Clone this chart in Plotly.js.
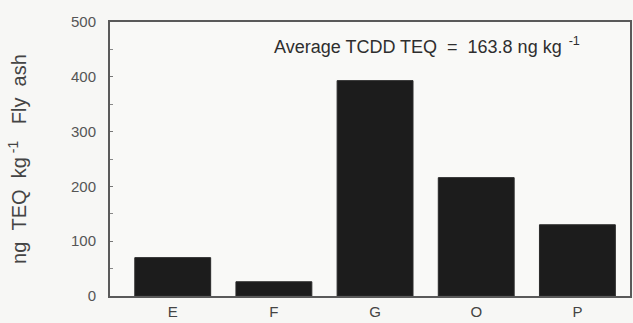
<!DOCTYPE html>
<html>
<head>
<meta charset="utf-8">
<script src="https://cdn.plot.ly/plotly-3.0.1.min.js"></script>
<style>html,body{margin:0;padding:0;background:#f7f7f5;}#chart{width:633px;height:323px;}</style>
</head>
<body>
<div id="chart"></div>
<script>
const categories = ['E', 'F', 'G', 'O', 'P'];
const teqValues = [70, 26, 393, 216, 130];
const yTickVals = [0, 100, 200, 300, 400, 500];
const yTickText = ['0', '100', '200', '300', '400', '500'];
const annotationText = 'Average TCDD TEQ \u00a0=\u00a0 163.8 ng kg<sup>\u00a0\u00a0-1</sup>';
const yTitle = 'ng \u00a0TEQ \u00a0kg<sup>\u00a0-1</sup>\u00a0 \u00a0Fly \u00a0ash';

const trace = {
  type: 'bar',
  x: categories,
  y: teqValues,
  width: 0.75,
  marker: {color: '#1c1c1c', line: {color: '#2a2a2a', width: 1}},
  hoverinfo: 'x+y'
};

const layout = {
  width: 633, height: 323,
  margin: {l: 110, r: 3, t: 22, b: 27},
  paper_bgcolor: '#f7f7f5',
  plot_bgcolor: '#f9f9f7',
  font: {family: 'Liberation Sans, Arial, sans-serif', color: '#3a3a3a', size: 12},
  showlegend: false,
  xaxis: {
    type: 'category',
    range: [-0.62, 4.52],
    showline: true, mirror: true, linecolor: '#5a5a5a', linewidth: 2,
    ticks: '', showgrid: false, zeroline: false,
    tickfont: {size: 15, color: '#444'},
    ticklabelstandoff: 1
  },
  yaxis: {
    range: [0, 500],
    tickvals: yTickVals, ticktext: yTickText,
    showline: true, mirror: true, linecolor: '#5a5a5a', linewidth: 2,
    ticks: 'inside', ticklen: 3, tickcolor: '#777',
    minor: {dtick: 50, ticks: 'inside', ticklen: 3, tickcolor: '#888'},
    showgrid: false, zeroline: false,
    tickfont: {size: 15, color: '#555'},
    ticklabelstandoff: 9,
    title: {text: yTitle, font: {size: 20, color: '#444'}, standoff: 39}
  },
  annotations: [{
    xref: 'paper', yref: 'paper',
    x: 0.61, y: 0.915, xanchor: 'center', yanchor: 'middle',
    text: annotationText, showarrow: false,
    font: {size: 18, color: '#2e2e2e'}
  }]
};

Plotly.newPlot('chart', [trace], layout, {displayModeBar: false, staticPlot: true});
</script>
</body>
</html>
